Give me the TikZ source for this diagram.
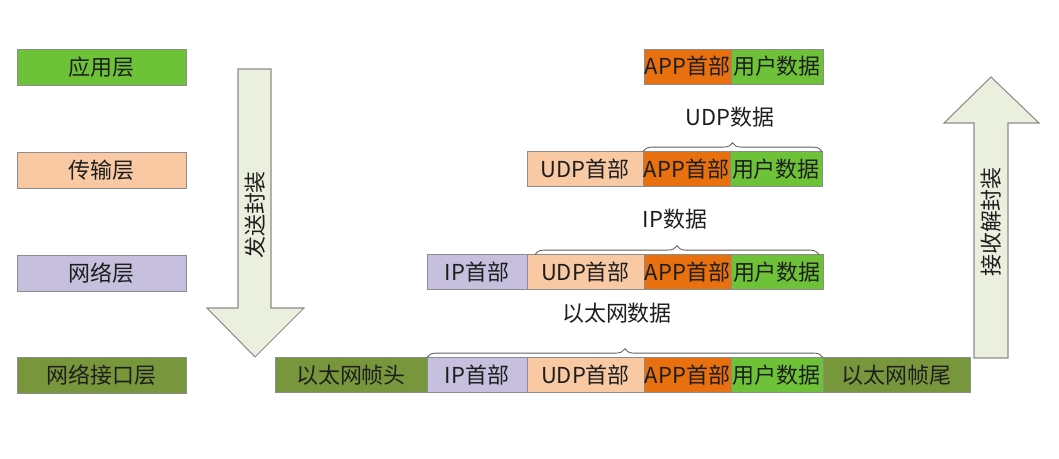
\documentclass[tikz,border=0pt]{standalone}
\usepackage{fontspec}
\setmainfont{Noto Sans CJK SC}
\usepackage{xcolor}
\usepackage{tikz}
\usetikzlibrary{positioning, decorations.pathreplacing, shadows}
\definecolor{lyApp}{HTML}{6EC238}
\definecolor{lyTrans}{HTML}{F9C9A3}
\definecolor{lyNet}{HTML}{C6BFDD}
\definecolor{lyLink}{HTML}{78963C}
\definecolor{lyHead}{HTML}{E8700F}
\definecolor{lyArrow}{HTML}{EBF0DE}
\definecolor{lyEdge}{HTML}{8C8C8C}
\definecolor{lyText}{HTML}{1E1E1E}
\tikzset{
  layer/.style={
    rectangle, draw=lyEdge, line width=0.5pt,
    fill=#1, text=lyText,
    inner sep=0pt,
    minimum width=3.38cm, minimum height=0.72cm,
    font=\fontsize{12.5}{14}\selectfont,
    drop shadow={opacity=0.25, shadow xshift=0.6pt, shadow yshift=-0.6pt}
  },
  seg/.style={
    rectangle, draw=lyEdge, line width=0.4pt,
    fill=#1, text=lyText,
    inner sep=0pt, outer sep=0pt,
    minimum height=0.7cm,
    font=\fontsize{12.5}{14}\selectfont
  },
  bigarrow/.style={
    draw=lyEdge, fill=lyArrow, line width=0.6pt, line join=miter
  },
  over/.style={
    decorate, decoration={brace, amplitude=5pt},
    draw=gray!75!black, line width=0.5pt
  },
  caption/.style={font=\fontsize{12.5}{14}\selectfont, text=lyText}
}

\begin{document}
\begin{tikzpicture}[x=0.02cm, y=-0.02cm]
  \useasboundingbox (0,0) rectangle (1059,459);
  % layers
  \node[layer=lyApp] (app) at (101.5,67) {应用层};
  \node[layer=lyTrans] (trans) at (101.5,170) {传输层};
  \node[layer=lyNet] (net) at (101.5,273) {网络层};
  \node[layer=lyLink] (link) at (101.5,375) {网络接口层};
  % big arrows
  \draw[bigarrow] (238,69) -- (271,69) -- (271,308) -- (304,308) -- (255,357) -- (207,308) -- (238,308) -- cycle;
  \node[caption, rotate=90] (sendtxt) at (255,215) {发送封装};
  \draw[bigarrow] (974,358) -- (1008,358) -- (1008,123) -- (1039,123) -- (991,77) -- (944,123) -- (974,123) -- cycle;
  \node[caption, rotate=90] (recvtxt) at (991,222) {接收解封装};
  % row 1
  \node[seg=lyHead, minimum width=1.74cm, anchor=west] (r1app) at (644,66.5) {APP首部};
  \node[seg=lyApp, minimum width=1.84cm, right=0pt of r1app] (r1data) {用户数据};
  % row 2
  \node[seg=lyTrans, minimum width=2.32cm, anchor=west] (r2udp) at (527,169) {UDP首部};
  \node[seg=lyHead, minimum width=1.74cm, right=0pt of r2udp] (r2app) {APP首部};
  \node[seg=lyApp, minimum width=1.84cm, right=0pt of r2app] (r2data) {用户数据};
  % row 3
  \node[seg=lyNet, minimum width=2.0cm, anchor=west] (r3ip) at (427,272) {IP首部};
  \node[seg=lyTrans, minimum width=2.34cm, right=0pt of r3ip] (r3udp) {UDP首部};
  \node[seg=lyHead, minimum width=1.74cm, right=0pt of r3udp] (r3app) {APP首部};
  \node[seg=lyApp, minimum width=1.84cm, right=0pt of r3app] (r3data) {用户数据};
  % row 4
  \node[seg=lyLink, minimum width=3.04cm, anchor=west] (r4head) at (275,375) {以太网帧头};
  \node[seg=lyNet, minimum width=2.0cm, right=0pt of r4head] (r4ip) {IP首部};
  \node[seg=lyTrans, minimum width=2.34cm, right=0pt of r4ip] (r4udp) {UDP首部};
  \node[seg=lyHead, minimum width=1.74cm, right=0pt of r4udp] (r4app) {APP首部};
  \node[seg=lyApp, minimum width=1.84cm, right=0pt of r4app] (r4data) {用户数据};
  \node[seg=lyLink, minimum width=2.94cm, right=0pt of r4data] (r4tail) {以太网帧尾};
  % braces
  \draw[over] (r2app.north west) -- (r2data.north east);
  \node[caption] (udpcap) at (730,117) {UDP数据};
  \draw[over] ([xshift=0.16cm]r3udp.north west) -- ([xshift=-0.08cm]r3data.north east);
  \node[caption] (ipcap) at (675,219) {IP数据};
  \draw[over] (r4ip.north west) -- (r4data.north east);
  \node[caption] (ethcap) at (617,313) {以太网数据};
\end{tikzpicture}
\end{document}
